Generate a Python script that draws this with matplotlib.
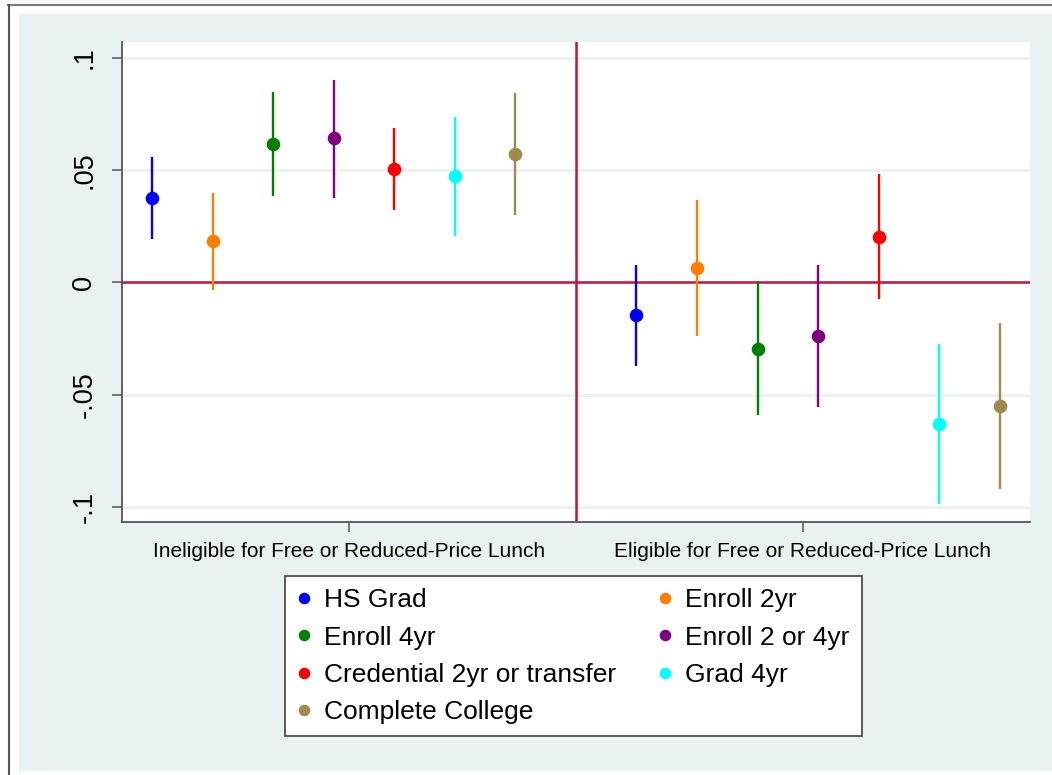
import numpy as np
import matplotlib
matplotlib.use("Agg")
import matplotlib.pyplot as plt
from matplotlib.patches import Rectangle
from matplotlib.lines import Line2D

plt.rcParams['font.family'] = ['Liberation Sans', 'DejaVu Sans']

groups = ["Ineligible for Free or Reduced-Price Lunch",
          "Eligible for Free or Reduced-Price Lunch"]
outcomes = ["HS Grad", "Enroll 2yr", "Enroll 4yr", "Enroll 2 or 4yr",
            "Credential 2yr or transfer", "Grad 4yr", "Complete College"]
colors = ["#0000FF", "#FF7F00", "#008000", "#800080",
          "#FF0000", "#00FFFF", "#A08A4C"]

# point estimates and CI bounds for each group
coef_inel = [0.0378, 0.0182, 0.0616, 0.0642, 0.0504, 0.0473, 0.0570]
lo_inel = [0.0194, -0.0036, 0.0383, 0.0377, 0.0323, 0.0208, 0.0299]
hi_inel = [0.0558, 0.0396, 0.0850, 0.0903, 0.0688, 0.0738, 0.0844]

coef_elig = [-0.0146, 0.0066, -0.0295, -0.0237, 0.0204, -0.0631, -0.0550]
lo_elig = [-0.0371, -0.0241, -0.0592, -0.0556, -0.0076, -0.0988, -0.0921]
hi_elig = [0.0079, 0.0369, 0.0004, 0.0079, 0.0481, -0.0275, -0.0183]

ytick_vals = [-0.1, -0.05, 0, 0.05, 0.1]
ytick_labels = ["-.1", "-.05", "0", ".05", ".1"]

W, H = 1052, 775
fig = plt.figure(figsize=(W / 100, H / 100), dpi=100)
fig.patch.set_facecolor("white")

# stata style graph region
bg = "#E9F1F3"
fig.add_artist(Rectangle((19 / W, 1 - 771 / H), (W - 19) / W, (771 - 14) / H,
                         transform=fig.transFigure, facecolor=bg,
                         edgecolor="none", zorder=0))
fig.add_artist(Line2D([8 / W, 1], [1 - 5 / H, 1 - 5 / H], transform=fig.transFigure,
                      color="#7a7a7a", lw=1.5))
fig.add_artist(Line2D([9 / W, 9 / W], [0, 1 - 5 / H], transform=fig.transFigure,
                      color="#555555", lw=1.5))

ax = fig.add_axes([121.7 / W, 1 - 522 / H, (1030 - 121.7) / W, (522 - 42) / H])
ax.set_facecolor("white")

step = 2 / 15
starts = [-6.5 / 15, -5.5 / 15]
data = [(coef_inel, lo_inel, hi_inel), (coef_elig, lo_elig, hi_elig)]
for g, (coef, lo, hi) in enumerate(data):
    for k in range(len(outcomes)):
        x = g + 1 + starts[g] + k * step
        ax.vlines(x, lo[k], hi[k], color=colors[k], lw=1.7, zorder=3)
        ax.plot(x, coef[k], "o", color=colors[k], ms=9.8, mec="none",
                zorder=4, label=outcomes[k] if g == 0 else None)

ax.axhline(0, color="#C8103C", lw=1.8, zorder=2)
ax.axvline(1.5, color="#C8103C", lw=1.8, zorder=2)

ax.set_xlim(0.5, 2.5)
ax.set_ylim(-0.1068, 0.1071)
ax.set_yticks(ytick_vals)
ax.set_yticklabels(ytick_labels, fontsize=19.5, rotation=90, va="center")
ax.set_xticks([1, 2])
ax.set_xticklabels(groups, fontsize=15)
for t in ytick_vals:
    if t != 0:
        ax.axhline(t, color=bg, lw=2, zorder=1)

for s in ["top", "right"]:
    ax.spines[s].set_visible(False)
for s in ["left", "bottom"]:
    ax.spines[s].set_color("#555555")
    ax.spines[s].set_linewidth(1.3)
ax.tick_params(axis="y", length=7.5, width=1.1, color="#555555", pad=10)
ax.tick_params(axis="x", length=7.5, width=1.1, color="#555555", pad=7)

handles, labels = ax.get_legend_handles_labels()
order = [0, 2, 4, 6, 1, 3, 5]
leg = fig.legend([handles[i] for i in order], [labels[i] for i in order],
                 loc="upper left", bbox_to_anchor=(285 / W, 1 - 576 / H),
                 ncol=2, fontsize=19, frameon=True, fancybox=False,
                 framealpha=1, handlelength=0.5, handletextpad=0.5,
                 columnspacing=1.62, borderpad=0.47, labelspacing=0.5,
                 markerscale=0.85, borderaxespad=0)
leg.get_frame().set_edgecolor("#404040")
leg.get_frame().set_linewidth(1.2)

fig.savefig("out.png", dpi=100, facecolor="white")
